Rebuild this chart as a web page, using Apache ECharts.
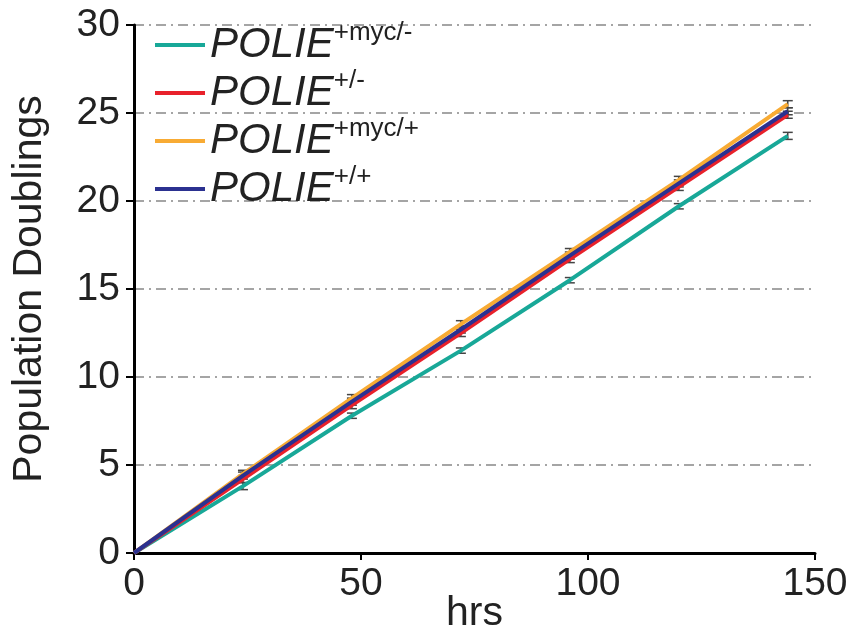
<!DOCTYPE html>
<html>
<head>
<meta charset="utf-8">
<script src="https://cdn.jsdelivr.net/npm/echarts@6/dist/echarts.min.js"></script>
<style>
html, body { margin: 0; padding: 0; background: #fff; }
#chart { width: 853px; height: 631px; }
</style>
</head>
<body>
<div id="chart"></div>
<script>
var hours = [0, 24, 48, 72, 96, 120, 144]; //时间点
var names = ['POLIE+myc/-', 'POLIE+/-', 'POLIE+myc/+', 'POLIE+/+'];
var supers = ['+myc/-', '+/-', '+myc/+', '+/+'];
var colors = ['#18a898', '#e8212b', '#f8ab34', '#2b3190'];
var mycMinus = [0, 3.8, 7.8, 11.5, 15.5, 19.7, 23.7];
var plusMinus = [0, 4.2, 8.4, 12.5, 16.7, 20.8, 24.9];
var mycPlus = [0, 4.5, 8.8, 13.0, 17.1, 21.2, 25.5];
var plusPlus = [0, 4.4, 8.6, 12.7, 16.9, 21.0, 25.1];
var errMycMinus = [0, 0.2, 0.15, 0.15, 0.15, 0.15, 0.2];
var errPlusMinus = [0, 0.2, 0.2, 0.2, 0.2, 0.2, 0.2];
var errMycPlus = [0, 0.2, 0.2, 0.2, 0.2, 0.2, 0.2];
var errPlusPlus = [0, 0.2, 0.2, 0.2, 0.2, 0.2, 0.2];
var yTicks = [0, 5, 10, 15, 20, 25, 30];
var xTicks = [0, 50, 100, 150];

var allData = [mycMinus, plusMinus, mycPlus, plusPlus];
var allErr = [errMycMinus, errPlusMinus, errMycPlus, errPlusPlus];

var myChart = echarts.init(document.getElementById('chart'));

var series = [];
for (var i = 0; i < allData.length; i++) {
	var pts = [];
	for (var j = 0; j < hours.length; j++) {
		pts.push([hours[j], allData[i][j]]);
	}
	series.push({
		name: names[i],
		type: 'line',
		data: pts,
		symbol: 'none',
		animation: false,
		z: 3,
		lineStyle: { color: colors[i], width: 4 },
		itemStyle: { color: colors[i] }
	});
}
// 误差线
for (var i = 0; i < allData.length; i++) {
	var eb = [];
	for (var j = 1; j < hours.length; j++) {
		eb.push([hours[j], allData[i][j] - allErr[i][j], allData[i][j] + allErr[i][j]]);
	}
	series.push({
		type: 'custom',
		animation: false,
		silent: true,
		z: 2,
		data: eb,
		renderItem: function(params, api) {
			var lo = api.coord([api.value(0), api.value(1)]);
			var hi = api.coord([api.value(0), api.value(2)]);
			var w = 5;
			var st = { stroke: '#444', lineWidth: 1.5 };
			return {
				type: 'group',
				children: [
					{ type: 'line', shape: { x1: lo[0], y1: lo[1], x2: hi[0], y2: hi[1] }, style: st },
					{ type: 'line', shape: { x1: lo[0] - w, y1: lo[1], x2: lo[0] + w, y2: lo[1] }, style: st },
					{ type: 'line', shape: { x1: hi[0] - w, y1: hi[1], x2: hi[0] + w, y2: hi[1] }, style: st }
				]
			};
		}
	});
}

var option = {
	backgroundColor: '#fff',
	textStyle: { fontFamily: 'Liberation Sans' },
	grid: { left: 134, right: 38, top: 25, bottom: 78, outerBoundsMode: 'none', containLabel: false },
	legend: {
		orient: 'vertical',
		left: 150,
		top: 15,
		itemGap: 2,
		itemWidth: 50,
		itemHeight: 4,
		icon: 'rect',
		data: names,
		formatter: function(name) {
			var k = names.indexOf(name);
			return '{a|POLIE}{b|' + supers[k] + '}';
		},
		textStyle: {
			rich: {
				a: { fontSize: 42, fontStyle: 'italic', color: '#222', fontFamily: 'Liberation Sans', lineHeight: 40 },
				b: { fontSize: 26, color: '#222', fontFamily: 'Liberation Sans', padding: [0, 0, 24, 0] }
			}
		}
	},
	xAxis: {
		type: 'value',
		min: 0,
		max: 150,
		interval: 50,
		name: 'hrs',
		nameLocation: 'middle',
		nameGap: 40,
		nameMoveOverlap: false,
		nameTextStyle: { fontSize: 41, color: '#222' },
		axisLine: { lineStyle: { color: '#000', width: 3 } },
		axisTick: { show: true, length: 7, lineStyle: { color: '#000', width: 2 } },
		axisLabel: { fontSize: 39, color: '#222', margin: 12 },
		splitLine: { show: false }
	},
	yAxis: {
		type: 'value',
		min: 0,
		max: 30,
		interval: 5,
		name: 'Population Doublings',
		nameLocation: 'middle',
		nameGap: 84,
		nameMoveOverlap: false,
		nameTextStyle: { fontSize: 41, color: '#222' },
		axisLine: { show: true, lineStyle: { color: '#000', width: 3 } },
		axisTick: { show: true, length: 8, lineStyle: { color: '#000', width: 2 } },
		axisLabel: { fontSize: 39, color: '#222', margin: 14 },
		splitLine: {
			show: true,
			lineStyle: { color: '#888', width: 1.5, type: [10, 5, 2, 5] }
		}
	},
	series: series
};
myChart.setOption(option);
</script>
</body>
</html>
